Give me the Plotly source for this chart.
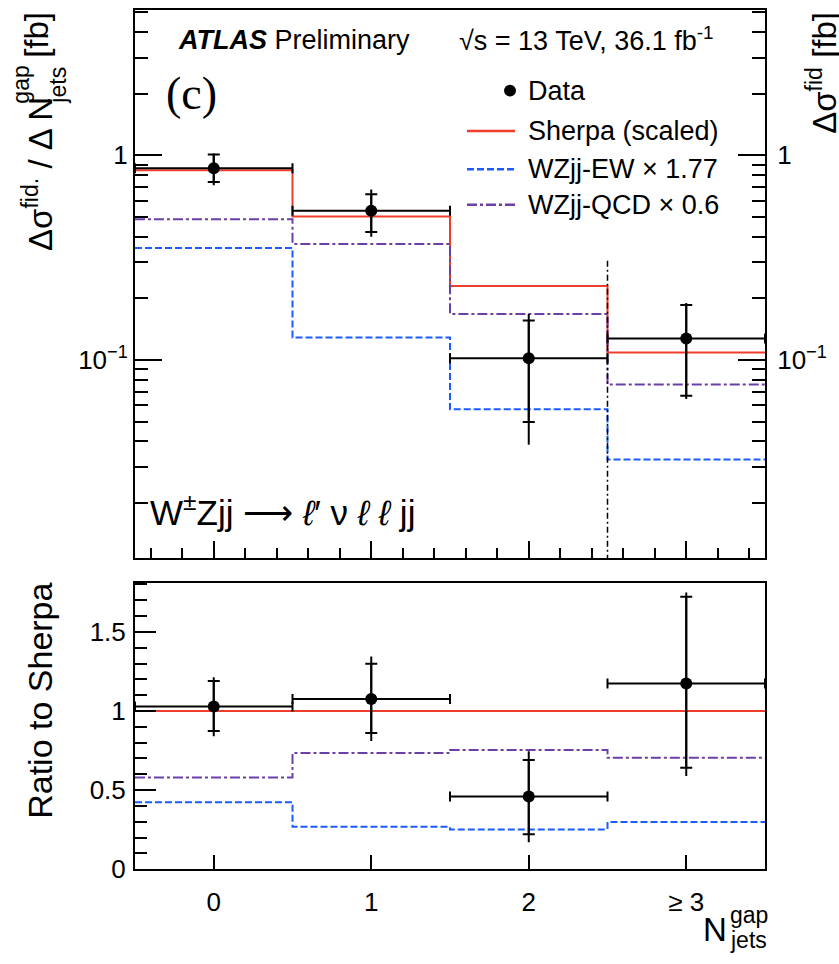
import plotly.graph_objects as go

W, H = 839, 964

bin_centers = [0, 1, 2, 3]
bin_edges = [-0.5, 0.5, 1.5, 2.5, 3.5]
bin_labels = ['0', '1', '2', '≥ 3']

# upper panel, cross section per bin [fb]
data_xs = [0.865, 0.536, 0.102, 0.1276]
data_stat_lo = [0.742, 0.422, 0.0498, 0.067]
data_stat_hi = [1.01, 0.645, 0.156, 0.186]
data_tot_lo = [0.715, 0.40, 0.0386, 0.0645]
data_tot_hi = [1.02, 0.681, 0.168, 0.19]
sherpa_xs = [0.847, 0.503, 0.23, 0.109]
ew_xs = [0.353, 0.129, 0.0575, 0.0327]
qcd_xs = [0.487, 0.369, 0.168, 0.0759]
sep_x = 2.5
sep_top = 0.306

# lower panel, ratio to Sherpa
ratio_data = [1.028, 1.076, 0.46, 1.174]
ratio_stat_lo = [0.873, 0.861, 0.221, 0.642]
ratio_stat_hi = [1.19, 1.298, 0.691, 1.722]
ratio_tot_lo = [0.84, 0.811, 0.171, 0.59]
ratio_tot_hi = [1.213, 1.345, 0.745, 1.749]
ratio_sherpa = [1.0, 1.0, 1.0, 1.0]
ratio_ew = [0.424, 0.269, 0.252, 0.298]
ratio_qcd = [0.58, 0.735, 0.753, 0.704]

RED = '#ee3d2a'
BLUE = '#1a5cff'
PURPLE = '#6b3fa8'
EW_DASH = '7px,3px'
QCD_DASH = '10px,3px,3px,3px'
FONT = 'Liberation Sans'


def px_x(p):
    return p / W


def px_y(p):
    return 1 - p / H


def step_y(vals):
    return list(vals) + [vals[-1]]


def errs(vals, lo, hi):
    return [h - v for v, h in zip(vals, hi)], [v - l for v, l in zip(vals, lo)]


def add_panel(fig, xa, ya, data, stat_lo, stat_hi, tot_lo, tot_hi, sherpa, ew, qcd):
    fig.add_trace(go.Scatter(x=bin_edges, y=step_y(sherpa), mode='lines', line_shape='hv',
                             line=dict(color=RED, width=2), xaxis=xa, yaxis=ya))
    fig.add_trace(go.Scatter(x=bin_edges, y=step_y(ew), mode='lines', line_shape='hv',
                             line=dict(color=BLUE, width=2, dash=EW_DASH), xaxis=xa, yaxis=ya))
    fig.add_trace(go.Scatter(x=bin_edges, y=step_y(qcd), mode='lines', line_shape='hv',
                             line=dict(color=PURPLE, width=2, dash=QCD_DASH), xaxis=xa, yaxis=ya))
    tot_up, tot_dn = errs(data, tot_lo, tot_hi)
    stat_up, stat_dn = errs(data, stat_lo, stat_hi)
    # total uncertainty: plain line, bin width: capped horizontal bar
    fig.add_trace(go.Scatter(
        x=bin_centers, y=data, mode='markers', marker=dict(size=1, color='black'),
        error_x=dict(type='constant', value=0.5, color='black', thickness=2, width=5),
        error_y=dict(type='data', array=tot_up, arrayminus=tot_dn, color='black', thickness=2, width=0),
        xaxis=xa, yaxis=ya))
    # statistical uncertainty with small ticks
    fig.add_trace(go.Scatter(
        x=bin_centers, y=data, mode='markers', marker=dict(size=12, color='black'),
        error_y=dict(type='data', array=stat_up, arrayminus=stat_dn, color='black', thickness=2, width=6),
        xaxis=xa, yaxis=ya))


fig = go.Figure()
add_panel(fig, 'x', 'y', data_xs, data_stat_lo, data_stat_hi, data_tot_lo, data_tot_hi,
          sherpa_xs, ew_xs, qcd_xs)
fig.add_trace(go.Scatter(x=[sep_x, sep_x], y=[sep_top, 0.005], mode='lines',
                         line=dict(color='black', width=1.5, dash='6px,3px,2px,3px'), xaxis='x', yaxis='y'))
add_panel(fig, 'x2', 'y2', ratio_data, ratio_stat_lo, ratio_stat_hi, ratio_tot_lo, ratio_tot_hi,
          ratio_sherpa, ratio_ew, ratio_qcd)

x_dom = [px_x(135), px_x(765)]
log_range = [-1.968, 0.711]
log_major = [0.1, 1]
log_major_text = ['10<sup>−1</sup>', '1']
log_minor = [k * 10 ** e for e in (-2, -1, 0) for k in range(2, 10)]

axis_common = dict(showline=True, linecolor='black', linewidth=2, showgrid=False, zeroline=False,
                   ticks='inside', tickcolor='black', tickwidth=2,
                   tickfont=dict(family=FONT, size=26, color='black'))

fig.update_layout(
    width=W, height=H,
    margin=dict(l=0, r=0, t=0, b=0),
    plot_bgcolor='white', paper_bgcolor='white',
    showlegend=False,
    font=dict(family=FONT, color='black'),
    xaxis=dict(domain=x_dom, anchor='y', range=[-0.5, 3.5], mirror=True,
               tickvals=bin_centers, ticklen=17, showticklabels=False,
               minor=dict(ticks='inside', dtick=0.2, tick0=0, ticklen=10, tickwidth=2, tickcolor='black'),
               **axis_common),
    yaxis=dict(domain=[px_y(567), px_y(10)], anchor='x', type='log', range=log_range, mirror=True,
               tickvals=log_major, ticktext=log_major_text, ticklen=27, ticklabelstandoff=0,
               minor=dict(ticks='inside', tickvals=log_minor, ticklen=13, tickwidth=2, tickcolor='black'),
               **axis_common),
    yaxis3=dict(overlaying='y', anchor='x', side='right', type='log', range=log_range,
                tickvals=log_major, ticktext=log_major_text, ticklen=27, ticklabelstandoff=5,
                minor=dict(ticks='inside', tickvals=log_minor, ticklen=13, tickwidth=2, tickcolor='black'),
                **axis_common),
    xaxis2=dict(domain=x_dom, anchor='y2', range=[-0.5, 3.5], mirror=True,
                tickvals=bin_centers, ticktext=bin_labels, ticklen=14, ticklabelstandoff=9,
                **axis_common),
    yaxis2=dict(domain=[px_y(883), px_y(592)], anchor='x2', range=[0, 1.81], mirror=True,
                tickvals=[0, 0.5, 1, 1.5], ticktext=['0', '0.5', '1', '1.5'], ticklen=21,
                ticklabelstandoff=2,
                minor=dict(ticks='inside', dtick=0.1, tick0=0, ticklen=12, tickwidth=2, tickcolor='black'),
                **axis_common),
)
# keep the right-hand axis drawn
fig.add_trace(go.Scatter(x=bin_centers, y=sherpa_xs, mode='lines', line=dict(width=0),
                         opacity=0, hoverinfo='skip', xaxis='x', yaxis='y3'))


def text(t, x, y, size, xanchor='left', yanchor='middle', angle=0, family=FONT):
    fig.add_annotation(text=t, x=px_x(x), y=px_y(y), xref='paper', yref='paper',
                       xanchor=xanchor, yanchor=yanchor, textangle=angle, showarrow=False,
                       font=dict(family=family, size=size, color='black'))


text('<b><i>ATLAS</i></b> Preliminary', 176, 41, 27)
text('√s = 13 TeV, 36.1 fb<sup>-1</sup>', 457, 40, 27)
text('(c)', 191, 95, 46, xanchor='center', family='Liberation Serif')
text('W<sup>±</sup>Zjj ⟶ <i>ℓ</i>′ ν <i>ℓ</i> <i>ℓ</i> jj', 148, 518, 35)

legend_rows = [('Data', 92), ('Sherpa (scaled)', 133), ('WZjj-EW × 1.77', 172), ('WZjj-QCD × 0.6', 208)]
for label, yy in legend_rows:
    text(label, 526, yy, 27)
fig.add_shape(type='circle', xref='paper', yref='paper', x0=px_x(504), x1=px_x(516),
              y0=px_y(98), y1=px_y(86), fillcolor='black', line=dict(color='black', width=0))
for (yy, col, dash) in [(133, RED, 'solid'), (172, BLUE, EW_DASH), (208, PURPLE, QCD_DASH)]:
    fig.add_shape(type='line', xref='paper', yref='paper', x0=px_x(467), x1=px_x(515),
                  y0=px_y(yy), y1=px_y(yy), line=dict(color=col, width=2.5, dash=dash))

# y title of the upper panel, with stacked scripts
text('Δσ<sup>fid.</sup> / Δ N', 38, 257, 33, xanchor='center', yanchor='bottom', angle=-90)
text('gap', 21, 86, 23, xanchor='center', angle=-90)
text('jets', 58, 87, 23, xanchor='center', angle=-90)
text('[fb]', 37, 10, 33, xanchor='center', yanchor='top', angle=-90)

text('Ratio to Sherpa', 40, 590, 34, xanchor='center', yanchor='top', angle=-90)

# x title
text('N', 729, 944, 33, xanchor='right')
text('gap', 728, 929, 23)
text('jets', 728, 955, 23)

# neighbouring panel's title, cut by the edge
text('Δσ<sup>fid</sup> [fb]', 822, 10, 33, xanchor='center', yanchor='top', angle=-90)

# drop the page's default body margin so the figure sits at the window corner
fig.write_html('out.html', config={'displayModeBar': False},
               post_script="document.body.style.margin='0';")
